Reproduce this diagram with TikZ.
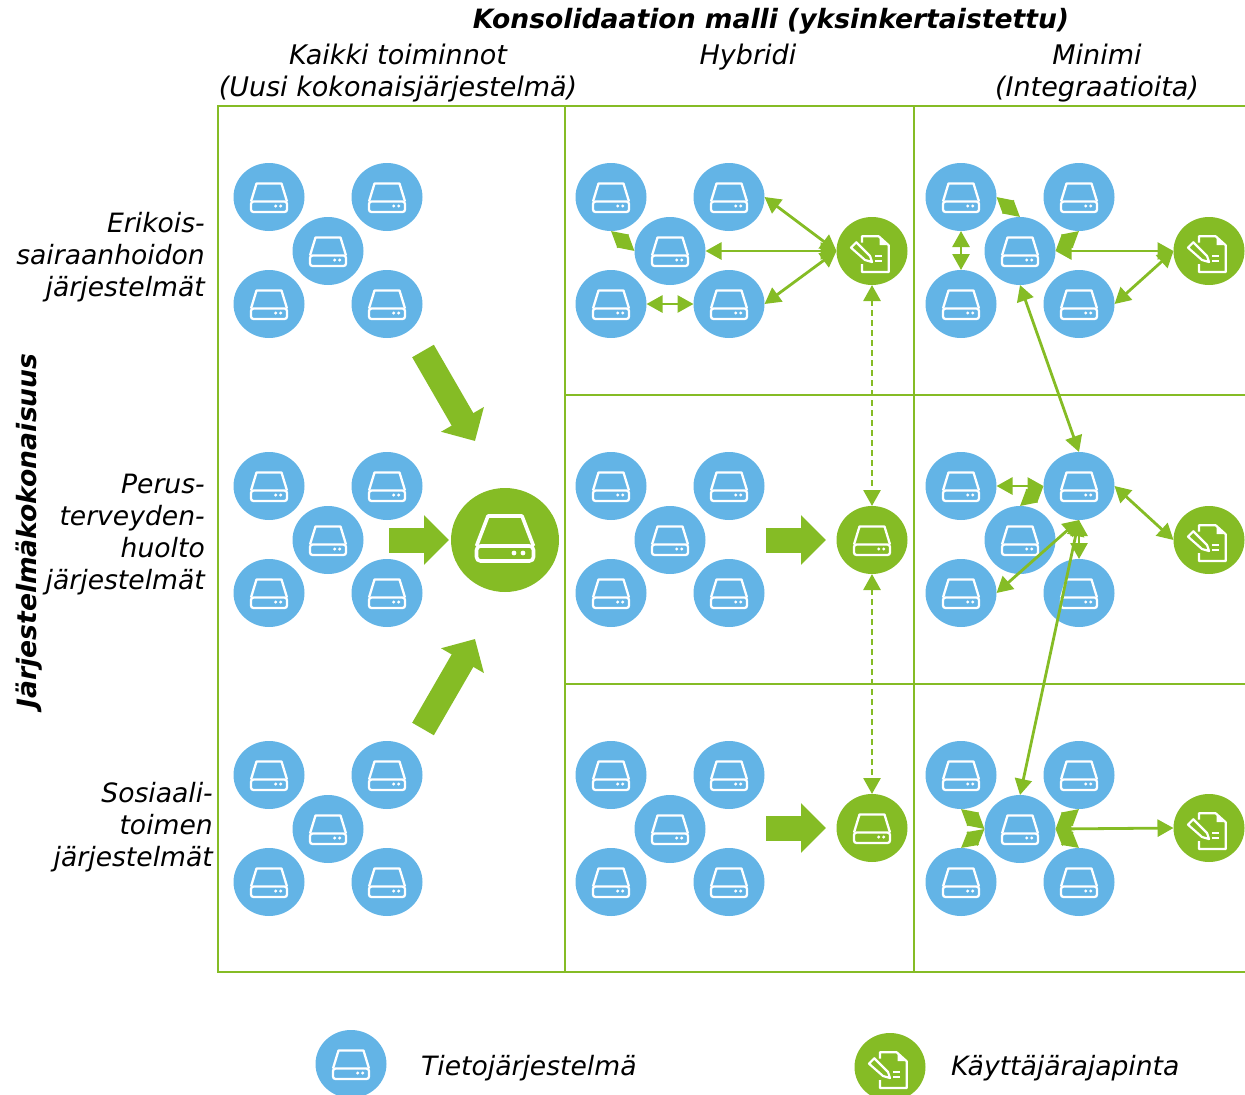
\documentclass[tikz,border=0pt]{standalone}
\usepackage{fontspec}
\setmainfont{DejaVu Sans}
\usetikzlibrary{arrows.meta, shapes.geometric, positioning}
\definecolor{sysblue}{HTML}{63B4E6}
\definecolor{kgreen}{HTML}{85BC25}
\newcommand{\dbicon}{
    \begin{scope}[shift={(path picture bounding box.center)}, draw=white, line width=2.3pt, line join=round]
        \draw (-18,4.5) -- (-12.5,-13.5) -- (12.5,-13.5) -- (18,4.5);
        \draw[rounded corners=2.5pt] (-18,4.5) rectangle (18,15);
        \fill[white] (6.7,9) circle (1.7) (11.7,9) circle (1.7);
    \end{scope}
}
\newcommand{\bigdbicon}{
    \begin{scope}[shift={(path picture bounding box.center)}, draw=white, line width=3.6pt, line join=round]
        \draw (-28.5,6) -- (-17,-24) -- (17,-24) -- (28.5,6);
        \draw[rounded corners=4pt] (-28.5,6) rectangle (28.5,21);
        \fill[white] (9,13) circle (2.4) (18,13) circle (2.4);
    \end{scope}
}
\newcommand{\uiicon}{
    \begin{scope}[shift={(path picture bounding box.center)}, draw=white, line width=2.2pt, line join=round]
        \draw (-10,-8.5) -- (-10,-14.7) -- (6.7,-14.7) -- (16.7,-5.7) -- (16.7,21) -- (-10,21) -- (-10,13);
        \fill[white] (7.5,-13) -- (7.5,-6) -- (15,-6) -- cycle;
        \draw (-21,-3.3) -- (-15.7,-8.7) -- (-2,5) -- (0,11) -- (-7,9) -- cycle;
        \draw (3.3,5) -- (10,5) (3.3,10) -- (10,10);
    \end{scope}
}
\tikzset{
    sysnode/.style={ellipse, inner sep=0pt, outer sep=0pt, minimum width=71, minimum height=68, fill=sysblue, path picture={\dbicon}},
    hubnode/.style={sysnode, fill=kgreen},
    uinode/.style={ellipse, inner sep=0pt, outer sep=0pt, minimum width=71, minimum height=68, fill=kgreen, path picture={\uiicon}},
    mainnode/.style={ellipse, inner sep=0pt, outer sep=0pt, minimum width=108, minimum height=104, fill=kgreen, path picture={\bigdbicon}},
    link/.style={draw=kgreen, line width=2.8pt, {Triangle[length=16pt,width=17pt]}-{Triangle[length=16pt,width=17pt]}},
    dashlink/.style={link, dash pattern=on 6pt off 4pt},
    bigarrow/.style={draw=kgreen, line width=25pt, -{Triangle[length=25pt,width=48pt]}},
    grid/.style={draw=kgreen, line width=1.8pt},
    coltext/.style={font=\fontsize{27}{32}\selectfont\itshape, align=center, inner sep=0pt},
    rowtext/.style={font=\fontsize{26.6}{32}\selectfont\itshape, align=right, inner sep=0pt, anchor=east},
    headtext/.style={font=\fontsize{26.6}{32}\selectfont\bfseries\itshape, inner sep=0pt},
}
\begin{document}
\begin{tikzpicture}[x=1pt, y=-1pt]
    \useasboundingbox (0,0) rectangle (1245,1095);
    \draw[grid] (1246,106) -- (218,106) -- (218,972) -- (1246,972);
    \draw[grid] (565,106) -- (565,972);
    \draw[grid] (914,106) -- (914,972);
    \draw[grid] (565,395) -- (1246,395);
    \draw[grid] (565,684) -- (1246,684);

    \foreach \col/\dx in {1/0, 2/342, 3/692}
        \foreach \row/\dy in {1/0, 2/289, 3/578} {
            \node[sysnode] (tl\col\row) at (269+\dx,197+\dy) {};
            \node[sysnode] (tr\col\row) at (387+\dx,197+\dy) {};
            \node[sysnode] (bl\col\row) at (269+\dx,304+\dy) {};
            \node[sysnode] (br\col\row) at (387+\dx,304+\dy) {};
            \node[sysnode] (c\col\row) at (328+\dx,251+\dy) {};
        }

    \node[mainnode] (main) at (505,540) {};
    \node[uinode] (ui21) at (872,251) {};
    \node[hubnode] (hub22) at (872,540) {};
    \node[hubnode] (hub23) at (872,828) {};
    \node[uinode] (ui31) at (1209,251) {};
    \node[uinode] (ui32) at (1209,540) {};
    \node[uinode] (ui33) at (1209,828) {};

    \coordinate (a1s) at (423,351);
    \coordinate (a1e) at (475,441);
    \coordinate (a2s) at (389,540);
    \coordinate (a2e) at (449,540);
    \coordinate (a3s) at (423,729);
    \coordinate (a3e) at (475,639);
    \coordinate (b2s) at (766,540);
    \coordinate (b2e) at (826,540);
    \coordinate (b3s) at (766,828);
    \coordinate (b3e) at (826,828);
    \draw[bigarrow] (a1s) -- (a1e);
    \draw[bigarrow] (a2s) -- (a2e);
    \draw[bigarrow] (a3s) -- (a3e);
    \draw[bigarrow] (b2s) -- (b2e);
    \draw[bigarrow] (b3s) -- (b3e);

    \draw[link] (tl21.south) -- (c21.west);
    \draw[link] (bl21.east) -- (br21.west);
    \draw[link] (tr21.east) -- (ui21.west);
    \draw[link] (c21.east) -- (ui21.west);
    \draw[link] (br21.east) -- (ui21.west);
    \draw[dashlink] (ui21.south) -- (hub22.north);
    \draw[dashlink] (hub22.south) -- (hub23.north);

    \draw[link] (tl31.east) -- (c31.north);
    \draw[link] (tl31.south) -- (bl31.north);
    \draw[link] (tr31.south) -- (c31.east);
    \draw[link] (c31.east) -- (ui31.west);
    \draw[link] (br31.east) -- (ui31.west);
    \draw[link] (c31.south) -- (tr32.north);
    \draw[link] (tl32.east) -- (tr32.west);
    \draw[link] (c32.north) -- (tr32.west);
    \draw[link] (bl32.east) -- (tr32.south);
    \draw[link] (tr32.south) -- (br32.north);
    \draw[link] (tr32.east) -- (ui32.west);
    \draw[link] (tr32.south) -- (c33.north);
    \draw[link] (tl33.south) -- (c33.west);
    \draw[link] (bl33.north) -- (c33.west);
    \draw[link] (tr33.south) -- (c33.east);
    \draw[link] (br33.north) -- (c33.east);
    \draw[link] (c33.east) -- (ui33.west);

    \node[headtext] (title) at (771,21) {Konsolidaation malli (yksinkertaistettu)};
    \node[coltext] (col1) at (398,73) {Kaikki toiminnot\\(Uusi kokonaisjärjestelmä)};
    \node[coltext] (col2) at (748,57) {Hybridi};
    \node[coltext] (col3) at (1097,73) {Minimi\\(Integraatioita)};
    \node[rowtext] (row1) at (205,257) {Erikois-\\sairaanhoidon\\järjestelmät};
    \node[rowtext] (row2) at (205,535) {Perus-\\terveyden-\\huolto\\järjestelmät};
    \node[rowtext] (row3) at (213,827) {Sosiaali-\\toimen\\järjestelmät};
    \node[headtext, rotate=90] (side) at (29,531) {Järjestelmäkokonaisuus};

    \node[sysnode] (legsys) at (351,1064) {};
    \node[uinode] (legui) at (890,1067) {};
    \node[rowtext, anchor=west] (legsystext) at (421,1068) {Tietojärjestelmä};
    \node[rowtext, anchor=west] (leguitext) at (951,1068) {Käyttäjärajapinta};
\end{tikzpicture}
\end{document}
